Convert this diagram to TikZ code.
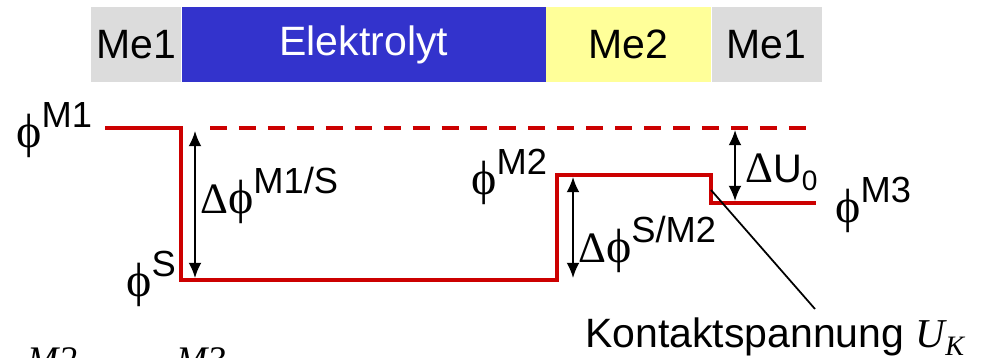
\documentclass[tikz,border=0pt]{standalone}
\usepackage{fontspec}
\setmainfont{Liberation Sans}
\newfontfamily\grk{Liberation Serif}
\usetikzlibrary{arrows.meta,positioning}
\definecolor{megray}{RGB}{220,220,220}
\definecolor{elblue}{RGB}{51,51,204}
\definecolor{meyellow}{RGB}{255,255,153}
\definecolor{potred}{RGB}{204,0,0}
\tikzstyle{layer} = [inner sep=0pt, minimum height=2.25cm, font=\fontsize{35}{40}\selectfont]
\tikzstyle{level} = [line width=4.2pt, color=potred, line join=miter]
\tikzstyle{arrow} = [line width=1.6pt, {Latex[length=13pt,width=11pt]}-{Latex[length=13pt,width=11pt]}]
\tikzstyle{lbl} = [inner sep=0pt, font=\fontsize{34}{36}\selectfont]
\newcommand{\phig}{{\grk\fontsize{41}{41}\selectfont ϕ}}
\newcommand{\Delg}{{\grk\fontsize{37}{37}\selectfont Δ}}
\newcommand{\sups}[1]{\raisebox{17pt}{\fontsize{31}{31}\selectfont #1}}

\begin{document}
\begin{tikzpicture}[x=0.03cm, y=-0.03cm]
\useasboundingbox (0,0) rectangle (988,357);
\clip (0,0) rectangle (988,357);

% layers
\node[layer, fill=megray, minimum width=2.7cm, anchor=west] (me1a) at (91,44.5) {Me1};
\node[layer, fill=elblue, text=white, minimum width=10.92cm, right=0pt of me1a] (elyt) {Elektrolyt};
\node[layer, fill=meyellow, minimum width=4.95cm, right=0pt of elyt] (me2) {Me2};
\node[layer, fill=megray, minimum width=3.3cm, right=0pt of me2] (me1b) {Me1};

% potential levels
\coordinate (m1start) at (105,128);
\coordinate (m1end) at (181,128);
\coordinate (sleft) at (181,280);
\coordinate (sright) at (557,280);
\coordinate (m2left) at (557,175);
\coordinate (m2right) at (711,175);
\coordinate (m3left) at (711,203);
\coordinate (m3end) at (816,203);
\draw[level] (m1start) -- (m1end) -- (sleft) -- (sright) -- (m2left) -- (m2right) -- (m3left) -- (m3end);
\draw[level, dash pattern=on 14.5pt off 10.2pt] (210,128) -- (808,128);

% arrows
\coordinate (a1top) at (195,131);
\coordinate (a1bot) at (195,278);
\coordinate (a2top) at (573,177);
\coordinate (a2bot) at (573,278);
\coordinate (a3top) at (735,130);
\coordinate (a3bot) at (735,201);
\draw[arrow] (a1top) -- (a1bot);
\draw[arrow] (a2top) -- (a2bot);
\draw[arrow] (a3top) -- (a3bot);

% labels
\node[lbl, anchor=base west] (phim1) at (16,147) {\phig\sups{M1}};
\node[lbl, anchor=base east] (phis) at (176,296) {\phig\sups{S}};
\node[lbl, anchor=base west] (dm1s) at (200,213) {\Delg\phig\sups{M1/S}};
\node[lbl, anchor=base west] (phim2) at (471,194) {\phig\sups{M2}};
\node[lbl, anchor=base west] (dsm2) at (578,262) {\Delg\phig\sups{S/M2}};
\node[lbl, anchor=base west] (du0) at (745,182) {\Delg U\raisebox{-7pt}{\fontsize{24}{24}\selectfont 0}};
\node[lbl, anchor=base west] (phim3) at (835,222) {\phig\sups{M3}};

% contact voltage
\node[lbl, anchor=base west, font=\fontsize{35}{38}\selectfont] (kontakt) at (585,347) {Kontaktspannung {\grk\itshape U\raisebox{-7pt}{\fontsize{24}{24}\selectfont K}}};
\coordinate (kstart) at (711,190);
\coordinate (kend) at (815,309);
\draw[line width=1.5pt] (kstart) -- (kend);

% cut-off formula at the bottom
\node[inner sep=0pt, anchor=base west, font=\grk\itshape\fontsize{32}{32}\selectfont] (fm2) at (27,372) {M2};
\node[inner sep=0pt, anchor=base west, font=\grk\itshape\fontsize{32}{32}\selectfont] (fm3) at (176,372) {M3};
\end{tikzpicture}
\end{document}
